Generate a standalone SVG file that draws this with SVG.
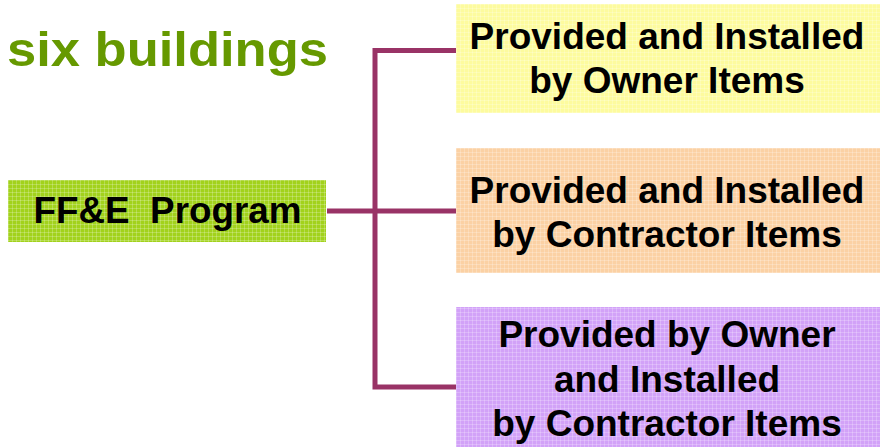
<svg xmlns="http://www.w3.org/2000/svg" width="880" height="447" viewBox="0 0 880 447">
  <defs>
    <!-- fine woven grid laid over the box fills -->
    <pattern id="weave" width="4" height="4" patternUnits="userSpaceOnUse">
      <rect x="0" y="0" width="4" height="1" fill="#ffffff" fill-opacity="0.22"/>
      <rect x="0" y="0" width="1" height="4" fill="#ffffff" fill-opacity="0.22"/>
    </pattern>
    <style>
      .lbl { font-family: "Liberation Sans", Arial, sans-serif; font-weight: bold; fill: #000000; text-anchor: middle; white-space: pre; }
      .box-text { font-size: 37px; }
      .link { fill: none; stroke: #993366; stroke-width: 5; stroke-linecap: butt; stroke-linejoin: miter; }
      .title { font-family: "Liberation Sans", Arial, sans-serif; font-weight: bold; font-size: 48px; fill: #669900; }
    </style>
  </defs>

  <rect width="880" height="447" fill="#ffffff"/>

  <text class="title" x="7" y="66" textLength="321" lengthAdjust="spacingAndGlyphs">six buildings</text>

  <!-- connectors -->
  <g id="connectors">
    <path class="link" d="M327 211 H456"/>
    <path class="link" d="M456 50.5 H375 V387 H456"/>
  </g>

  <g id="ffe-program">
    <rect x="8" y="180" width="318" height="62" fill="#a2d21c"/>
    <rect x="8" y="180" width="318" height="62" fill="url(#weave)"/>
    <text class="lbl" x="167.5" y="223" style="font-size:36.8px" xml:space="preserve">FF&amp;E  Program</text>
  </g>

  <g id="owner-items">
    <rect x="456" y="4" width="424" height="109" fill="#fdfb9e"/>
    <rect x="456" y="4" width="424" height="109" fill="url(#weave)"/>
    <text class="lbl box-text" x="667" y="49">Provided and Installed</text>
    <text class="lbl box-text" x="667" y="93">by Owner Items</text>
  </g>

  <g id="contractor-items">
    <rect x="456" y="148" width="424" height="125" fill="#fbd1a4"/>
    <rect x="456" y="148" width="424" height="125" fill="url(#weave)"/>
    <text class="lbl box-text" x="667" y="203">Provided and Installed</text>
    <text class="lbl box-text" x="667" y="247">by Contractor Items</text>
  </g>

  <g id="owner-contractor-items">
    <rect x="456" y="307" width="424" height="140" fill="#d2a2f8"/>
    <rect x="456" y="307" width="424" height="140" fill="url(#weave)"/>
    <text class="lbl box-text" x="667" y="347">Provided by Owner</text>
    <text class="lbl box-text" x="667" y="392">and Installed</text>
    <text class="lbl box-text" x="667" y="436">by Contractor Items</text>
  </g>
</svg>
